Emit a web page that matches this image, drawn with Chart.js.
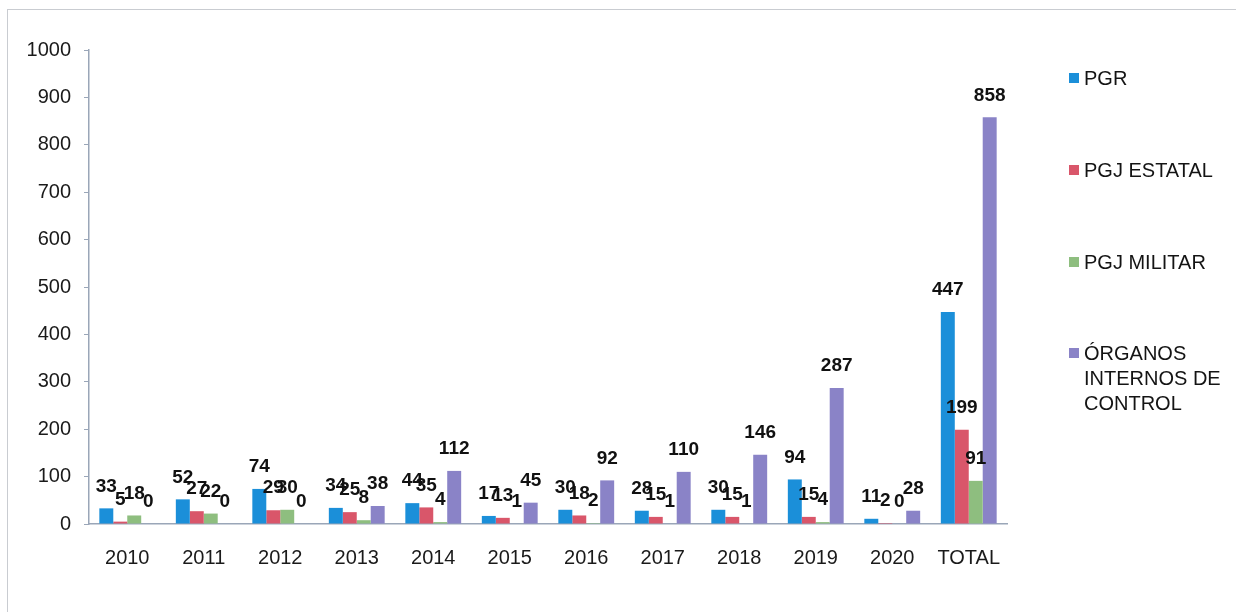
<!DOCTYPE html>
<html>
<head>
<meta charset="utf-8">
<script src="https://cdn.jsdelivr.net/npm/chart.js@4/dist/chart.umd.min.js"></script>
<style>
  html, body { margin: 0; padding: 0; background: #ffffff; }
  #wrap { position: relative; width: 1236px; height: 612px; overflow: hidden; background: #fff; }
  #frame { position: absolute; left: 7px; top: 9px; width: 1240px; height: 620px;
           border-top: 1.5px solid #c9ccd1; border-left: 1.5px solid #c9ccd1; pointer-events: none; }
  #legend { position: absolute; left: 1069px; top: 0; font-family: "Liberation Sans", Arial, sans-serif;
            font-size: 20px; color: #141414; }
  .item { position: absolute; left: 0; white-space: nowrap; }
  .sw { position: absolute; left: 0; width: 10px; height: 10px; }
  .tx { position: absolute; left: 15px; line-height: 25px; }
</style>
</head>
<body>
<div id="wrap">
  <canvas id="c" width="1236" height="612"></canvas>
  <div id="frame"></div>
  <div id="legend"></div>
</div>
<script>
const categories = ["2010","2011","2012","2013","2014","2015","2016","2017","2018","2019","2020","TOTAL"];
const seriesNames = ["PGR","PGJ ESTATAL","PGJ MILITAR","ÓRGANOS INTERNOS DE CONTROL"];
const pgr        = [33, 52, 74, 34, 44, 17, 30, 28, 30, 94, 11, 447];
const pgjEstatal = [5, 27, 29, 25, 35, 13, 18, 15, 15, 15, 2, 199];
const pgjMilitar = [18, 22, 30, 8, 4, 1, 2, 1, 1, 4, 0, 91];
const organos    = [0, 0, 0, 38, 112, 45, 92, 110, 146, 287, 28, 858];
const yTicks     = [0, 100, 200, 300, 400, 500, 600, 700, 800, 900, 1000];
const colors     = ["#1B8FD9", "#D9566A", "#8EBE7F", "#8A83C7"];
const legendLines = [["PGR"], ["PGJ ESTATAL"], ["PGJ MILITAR"], ["ÓRGANOS", "INTERNOS DE", "CONTROL"]];
const legendTop = [66, 158, 250, 341];

const seriesValues = [pgr, pgjEstatal, pgjMilitar, organos];

const labelPlugin = {
  id: 'barLabels',
  afterDatasetsDraw(chart) {
    const ctx = chart.ctx;
    ctx.save();
    ctx.font = 'bold 19px "Liberation Sans", Arial, sans-serif';
    ctx.fillStyle = '#111111';
    ctx.textAlign = 'center';
    ctx.textBaseline = 'middle';
    chart.data.datasets.forEach((ds, i) => {
      const meta = chart.getDatasetMeta(i);
      meta.data.forEach((el, j) => {
        ctx.fillText(String(ds.data[j]), el.x, el.y - 22);
      });
    });
    ctx.restore();
  }
};

new Chart(document.getElementById('c'), {
  type: 'bar',
  data: {
    labels: categories,
    datasets: seriesNames.map((n, i) => ({
      label: n,
      data: seriesValues[i],
      backgroundColor: colors[i],
      borderWidth: 0,
      categoryPercentage: 0.73,
      barPercentage: 1.0
    }))
  },
  options: {
    responsive: false,
    animation: false,
    devicePixelRatio: 1,
    layout: { padding: { left: 0, top: 50, right: 229, bottom: 0 } },
    plugins: { legend: { display: false }, tooltip: { enabled: false } },
    scales: {
      x: {
        afterFit(s) { s.height = 88; },
        grid: { display: false },
        border: { display: true, color: '#9aa6b8', width: 1.5 },
        ticks: { color: '#1a1a1a', padding: 14, font: { family: '"Liberation Sans", Arial, sans-serif', size: 20 } }
      },
      y: {
        min: 0, max: 1000,
        afterFit(s) { s.width = 89; },
        afterBuildTicks(s) { s.ticks = yTicks.map(v => ({ value: v })); },
        grid: { display: true, drawOnChartArea: false, drawTicks: true, tickLength: 5, color: '#9aa6b8' },
        border: { display: true, color: '#9aa6b8', width: 1.5 },
        ticks: {
          color: '#1a1a1a', padding: 13,
          callback: (v) => String(v),
          font: { family: '"Liberation Sans", Arial, sans-serif', size: 20 }
        }
      }
    }
  },
  plugins: [labelPlugin]
});

const lg = document.getElementById('legend');
legendLines.forEach((lines, i) => {
  const it = document.createElement('div');
  it.className = 'item';
  it.style.top = legendTop[i] + 'px';
  const sw = document.createElement('div');
  sw.className = 'sw';
  sw.style.background = colors[i];
  sw.style.top = '7px';
  const tx = document.createElement('div');
  tx.className = 'tx';
  tx.innerHTML = lines.join('<br>');
  it.appendChild(sw);
  it.appendChild(tx);
  lg.appendChild(it);
});
</script>
</body>
</html>
